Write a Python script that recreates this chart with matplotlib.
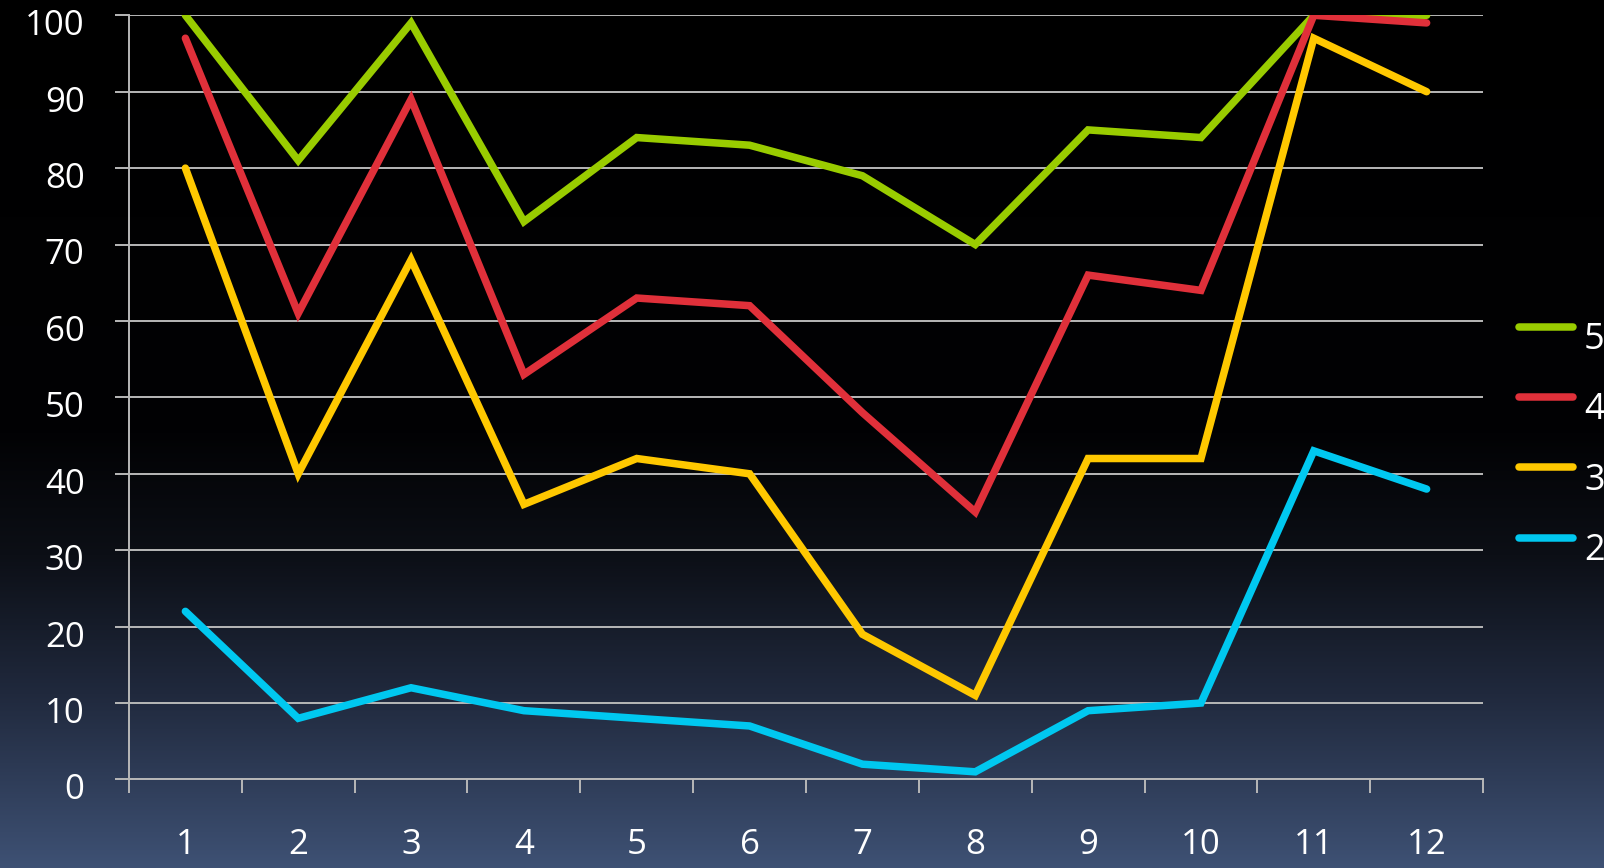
import numpy as np
import matplotlib
matplotlib.use('Agg')
import matplotlib.pyplot as plt
import matplotlib.transforms as mtransforms

plt.rcParams['font.family'] = ['Open Sans', 'DejaVu Sans']

# categories on the x axis
months = [1, 2, 3, 4, 5, 6, 7, 8, 9, 10, 11, 12]

# one series per legend entry
s5 = [100, 81, 99, 73, 84, 83, 79, 70, 85, 84, 100, 100]
s4 = [97, 61, 89, 53, 63, 62, 48, 35, 66, 64, 100, 99]
s3 = [80, 40, 68, 36, 42, 40, 19, 11, 42, 42, 97, 90]
s2 = [22, 8, 12, 9, 8, 7, 2, 1, 9, 10, 43, 38]

series_names = ['5', '4', '3', '2']
series_colors = ['#99CC00', '#E0303A', '#FFC800', '#00C8F0']
y_ticks = [0, 10, 20, 30, 40, 50, 60, 70, 80, 90, 100]

fig = plt.figure(figsize=(16.04, 8.68), dpi=100)

# background gradient: black on top, slate blue at the bottom
bg = fig.add_axes([0, 0, 1, 1], zorder=-10)
rows = np.linspace(0, 1, 400)
stops = [0.0, 0.5, 0.64, 0.8, 1.0]
r = np.interp(rows, stops, [0, 2, 12, 32, 62])
g = np.interp(rows, stops, [0, 2, 15, 41, 81])
b = np.interp(rows, stops, [0, 4, 22, 61, 116])
grad = np.stack([r, g, b], axis=1)[:, None, :] / 255.0
bg.imshow(grad, aspect='auto', extent=[0, 1, 1, 0])
bg.set_axis_off()

ax = fig.add_axes([0.0804, 0.102, 0.8442, 0.8804])
ax.patch.set_alpha(0)

for vals, name, col in zip([s5, s4, s3, s2], series_names, series_colors):
    ax.plot(months, vals, color=col, lw=5.4, label=name,
            solid_capstyle='round', solid_joinstyle='miter')

grid_col = '#b8b8b8'
ax.set_xlim(0.5, 12.5)
ax.set_ylim(0, 100)
ax.set_yticks(y_ticks)
ax.set_yticklabels([str(t) for t in y_ticks])
ax.set_xticks(months)
ax.set_xticklabels([str(m) for m in months])
ax.set_xticks(np.arange(0.5, 13, 1), minor=True)

ax.yaxis.grid(True, color=grid_col, lw=1.4)
ax.set_axisbelow(True)
for side in ['top', 'right']:
    ax.spines[side].set_visible(False)
for side in ['left', 'bottom']:
    ax.spines[side].set_color(grid_col)
    ax.spines[side].set_linewidth(1.4)

ax.tick_params(axis='y', length=10, width=1.4, color=grid_col,
               labelcolor='white', labelsize=25, pad=22)
ax.tick_params(axis='x', which='major', length=0, labelcolor='white',
               labelsize=25, pad=35)
ax.tick_params(axis='x', which='minor', length=10, width=1.4,
               color=grid_col, direction='out')

# nudge y labels down a little like the original's old-style figures
shift = mtransforms.ScaledTranslation(0, -5 / 72, fig.dpi_scale_trans)
for lab in ax.get_yticklabels():
    lab.set_transform(lab.get_transform() + shift)

leg = fig.legend(loc='center left', bbox_to_anchor=(0.947, 0.498),
                 frameon=False, fontsize=26, labelcolor='white',
                 handlelength=1.5, handletextpad=0.3, labelspacing=0.95,
                 borderpad=0, borderaxespad=0)
fig.canvas.draw()
lshift = mtransforms.ScaledTranslation(0, -7 / 72, fig.dpi_scale_trans)
for t in leg.get_texts():
    t.set_transform(t.get_transform() + lshift)

fig.savefig('out.png', dpi=100)
